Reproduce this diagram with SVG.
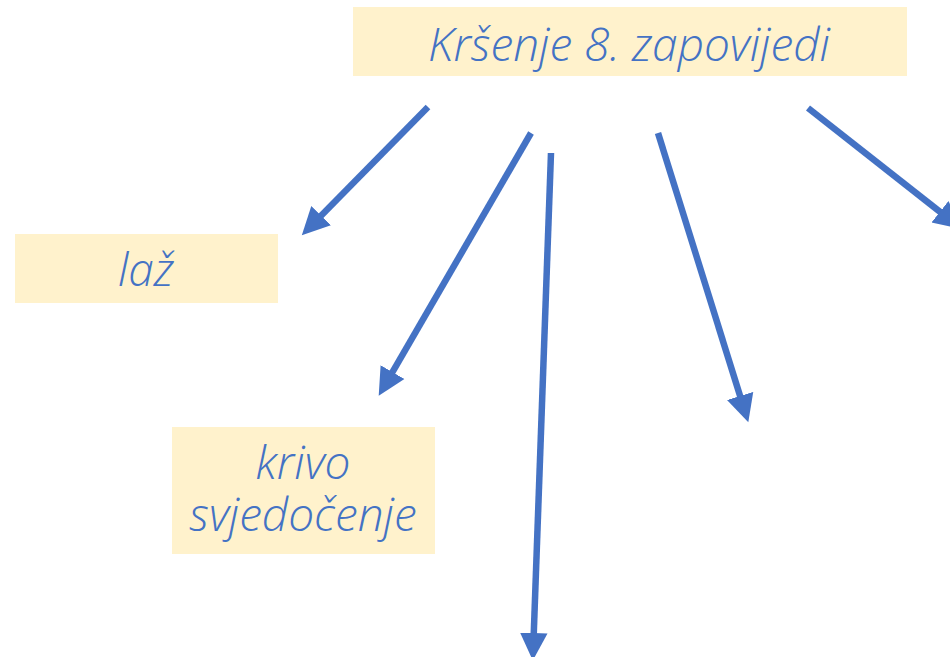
<svg xmlns="http://www.w3.org/2000/svg" width="950" height="657" viewBox="0 0 950 657">
<defs>
<style>
.box{fill:#fff2cc}
.t{font-family:"Open Sans","Noto Sans",sans-serif;font-style:italic;font-weight:300;font-size:46px;fill:#4472c4;text-anchor:middle}
.c{stroke:#4472c4;stroke-width:6.5;fill:none;marker-end:url(#ah)}
</style>
<marker id="ah" markerUnits="userSpaceOnUse" markerWidth="30" markerHeight="30" viewBox="0 -12 24 24" refX="4" refY="0" orient="auto">
<path d="M0,-11 L22,0 L0,11 z" fill="#4472c4"/>
</marker>
</defs>
<rect width="950" height="657" fill="#ffffff"/>
<g id="connectors">
<line class="c" x1="428" y1="107" x2="317.6" y2="219.2"/>
<line class="c" x1="531" y1="133" x2="390" y2="376.4"/>
<line class="c" x1="551" y1="153" x2="533.6" y2="638"/>
<line class="c" x1="658" y1="133" x2="741.6" y2="400.8"/>
<line class="c" x1="808" y1="108" x2="943.9" y2="214.9"/>
</g>
<g id="n-title">
<rect class="box" x="353" y="7" width="554" height="69"/>
<text class="t" x="629" y="61">Kršenje 8. zapovijedi</text>
</g>
<g id="n-laz">
<rect class="box" x="15" y="234" width="263" height="69"/>
<text class="t" x="146" y="286">laž</text>
</g>
<g id="n-krivo">
<rect class="box" x="172" y="427" width="263" height="127"/>
<text class="t" x="303" y="479">krivo</text>
<text class="t" x="303" y="531">svjedočenje</text>
</g>
</svg>
